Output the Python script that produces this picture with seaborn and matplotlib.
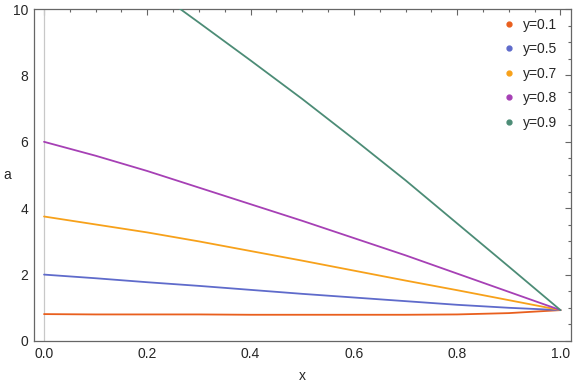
import numpy as np
import pandas as pd
import matplotlib
matplotlib.use("Agg")
import matplotlib.pyplot as plt
from matplotlib.lines import Line2D
from matplotlib.ticker import MultipleLocator
import seaborn as sns

# values
x_vals = [0.0, 0.1, 0.2, 0.3, 0.4, 0.5, 0.6, 0.7, 0.8, 0.9, 1.0]
a_y01 = [0.81, 0.80, 0.80, 0.80, 0.79, 0.79, 0.79, 0.79, 0.80, 0.84, 0.93]
a_y05 = [2.00, 1.89, 1.77, 1.66, 1.54, 1.42, 1.31, 1.20, 1.09, 1.00, 0.93]
a_y07 = [3.75, 3.51, 3.27, 3.00, 2.71, 2.42, 2.12, 1.82, 1.53, 1.23, 0.93]
a_y08 = [6.00, 5.58, 5.12, 4.62, 4.12, 3.62, 3.10, 2.58, 2.03, 1.48, 0.93]
a_y09 = [12.95, 11.85, 10.72, 9.59, 8.45, 7.29, 6.08, 4.84, 3.54, 2.24, 0.93]

labels = ["y=0.1", "y=0.5", "y=0.7", "y=0.8", "y=0.9"]
colors = ["#E95F1E", "#5F6BCB", "#F7A11A", "#A640B5", "#4C8C76"]

df = pd.concat([
    pd.DataFrame({"x": x_vals, "a": vals, "series": lab})
    for lab, vals in zip(labels, [a_y01, a_y05, a_y07, a_y08, a_y09])
])

sns.set_style("white")
plt.rcParams["font.family"] = ["Liberation Sans", "DejaVu Sans"]

fig = plt.figure(figsize=(5.76, 3.85), dpi=100)
ax = fig.add_axes([0.0585, 0.1143, 0.9325, 0.8623])

# grey vertical axis line at x=0
ax.axvline(0, color="#c8c8c8", lw=0.9, zorder=1)

sns.lineplot(data=df, x="x", y="a", hue="series", palette=colors,
             legend=False, lw=1.3, ax=ax, zorder=3)

ax.set_xlim(-0.02, 1.02)
ax.set_ylim(0, 10)
ax.xaxis.set_major_locator(MultipleLocator(0.2))
ax.xaxis.set_minor_locator(MultipleLocator(0.05))
ax.yaxis.set_major_locator(MultipleLocator(2))
ax.yaxis.set_minor_locator(MultipleLocator(0.5))
ax.set_xticks([0, 0.2, 0.4, 0.6, 0.8, 1.0])
ax.set_xticklabels(["0.0", "0.2", "0.4", "0.6", "0.8", "1.0"])

ax.tick_params(which="both", direction="in", top=True, right=True,
               color="#666666", width=0.8, labelsize=10, pad=4)
ax.tick_params(which="major", length=4)
ax.tick_params(which="minor", length=2)
for s in ax.spines.values():
    s.set_color("#666666")
    s.set_linewidth(0.9)

ax.set_xlabel("x", fontsize=10, labelpad=6)
ax.set_ylabel("a", fontsize=10, rotation=0, ha="center", va="center")
ax.yaxis.set_label_coords(-0.05, 0.5)

handles = [Line2D([], [], marker="o", linestyle="", color=c, markersize=3.5)
           for c in colors]
ax.legend(handles, labels, loc="upper right", bbox_to_anchor=(0.985, 0.99),
          frameon=False, fontsize=10, handlelength=0.8, handletextpad=0.6,
          labelspacing=0.75, borderaxespad=0)

fig.savefig("out.png", dpi=100)
